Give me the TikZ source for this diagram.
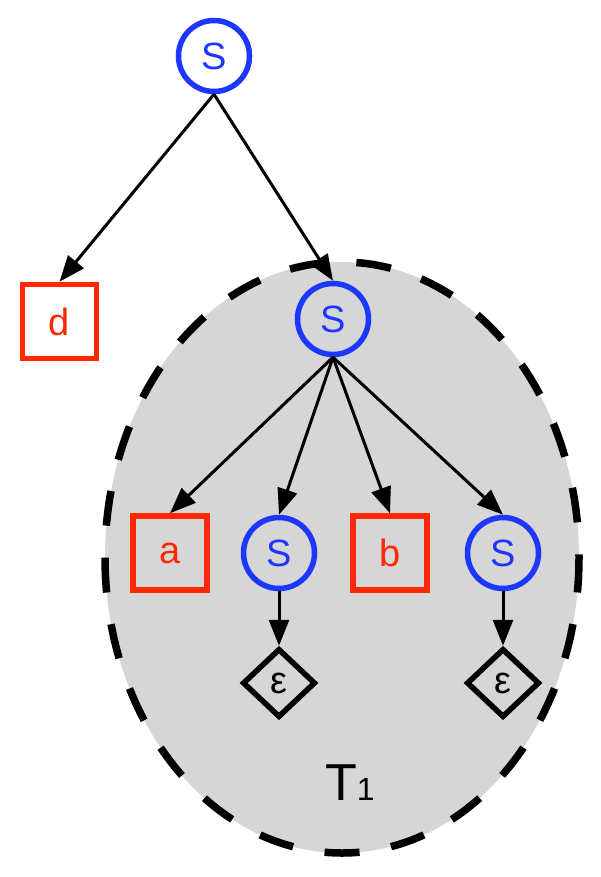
\documentclass[tikz,border=0pt]{standalone}
\usepackage{fontspec}
\setmainfont{Liberation Sans}
\usetikzlibrary{shapes.geometric,arrows.meta}
\definecolor{nodeblue}{RGB}{28,55,255}
\definecolor{nodered}{RGB}{255,40,0}
\definecolor{treegray}{RGB}{214,214,214}
\tikzset{
  nt/.style={circle,draw=nodeblue,line width=5.5pt,minimum size=71pt,inner sep=0pt,text=nodeblue,font=\fontsize{38}{40}\selectfont},
  term/.style={rectangle,draw=nodered,line width=5.5pt,minimum size=74pt,inner sep=0pt,text=nodered,font=\fontsize{38}{40}\selectfont},
  eps/.style={diamond,draw=black,line width=5.5pt,minimum width=73pt,minimum height=69pt,inner sep=0pt,font=\fontsize{38}{40}\selectfont},
  edge/.style={line width=3pt,-{Triangle[length=26pt,width=20pt]}},
  region/.style={fill=treegray,draw=black,line width=7.5pt,dash pattern=on 35pt off 32pt}
}
\begin{document}
\begin{tikzpicture}[x=1pt,y=-1pt]
\useasboundingbox (0,0) rectangle (600,877);
\draw[region] (342,557.5) ellipse [x radius=237, y radius=295.5];
\node[nt] (s0) at (214,56) {S};
\node[term] (d) at (59.5,321.5) {d};
\node[nt] (s1) at (333,319) {S};
\node[term] (a) at (170,553) {a};
\node[nt] (s2) at (279,553) {S};
\node[term] (b) at (390,553) {b};
\node[nt] (s3) at (503,553) {S};
\node[eps] (e1) at (279,683) {ε};
\node[eps] (e2) at (503,683) {ε};
\node[anchor=base,inner sep=0pt] (t1) at (350,800) {\fontsize{52}{52}\selectfont T\fontsize{32}{32}\selectfont 1};
\draw[edge] (s0.south) -- (d.north);
\draw[edge] (s0.south) -- (s1.north);
\draw[edge] (s1.south) -- (a.north);
\draw[edge] (s1.south) -- (s2.north);
\draw[edge] (s1.south) -- (b.north);
\draw[edge] (s1.south) -- (s3.north);
\draw[edge] (s2.south) -- (e1.north);
\draw[edge] (s3.south) -- (e2.north);
\end{tikzpicture}
\end{document}
